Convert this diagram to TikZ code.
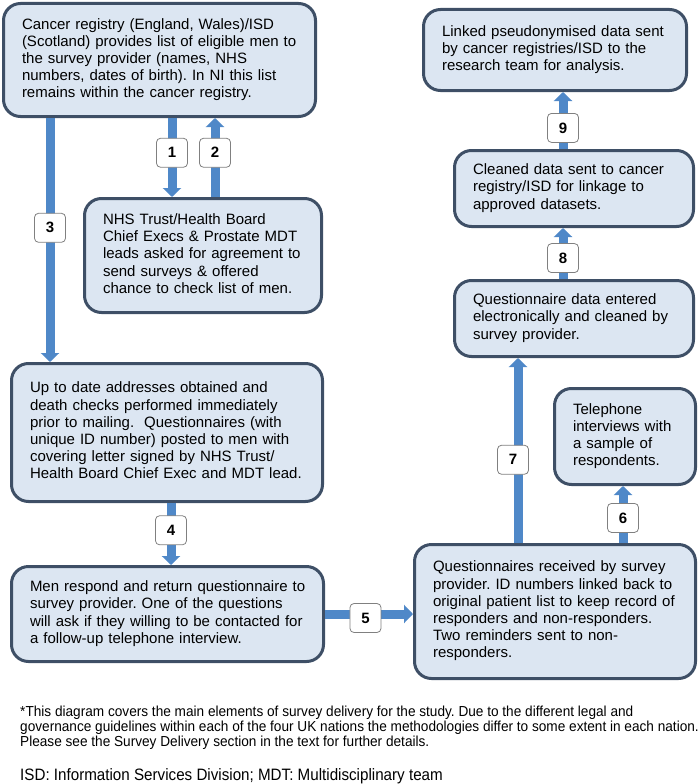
\documentclass[tikz,border=0pt]{standalone}
\usepackage{fontspec}
\setmainfont{Liberation Sans}
\newfontfamily\notefont[FakeStretch=0.94]{Liberation Sans}
\newfontfamily\abbrfont[FakeStretch=0.92]{Liberation Sans}
\usetikzlibrary{arrows.meta}
\frenchspacing

\definecolor{boxfill}{HTML}{DCE6F2}
\definecolor{boxline}{HTML}{3E4F66}
\definecolor{flowblue}{HTML}{4F88C8}

% lines of a box, kept unbroken
\newcommand{\boxlines}[1]{\begin{tabular}{@{}l@{}}#1\end{tabular}}

\tikzset{
  infobox/.style={draw=boxline, fill=boxfill, line width=3pt, rounded corners=17pt,
    align=left, inner xsep=18.5pt, inner ysep=0pt, font=\fontsize{15}{17.2}\selectfont},
  flowarrow/.style={draw=flowblue, line width=9pt, -{Triangle[width=18pt,length=9pt]}},
  numtag/.style={draw=gray, fill=white, line width=0.8pt, rounded corners=4pt,
    minimum width=31pt, minimum height=29pt, inner sep=0pt, font=\fontsize{15}{17}\selectfont\bfseries}
}

\begin{document}
\begin{tikzpicture}[x=1pt, y=-1pt]

\useasboundingbox ( 0, 0 ) rectangle ( 700, 784 );

% Boxes, left column
\node[infobox, minimum width=312pt, minimum height=113pt, text width=275pt] (registry) at ( 159.5, 60 )
  {\boxlines{Cancer registry (England, Wales)/ISD\\(Scotland) provides list of eligible men to\\the survey provider (names, NHS\\numbers, dates of birth). In NI this list\\remains within the cancer registry.}};
\node[infobox, minimum width=237pt, minimum height=114pt, text width=200pt] (trust) at ( 203, 255.5 )
  {\boxlines{NHS Trust/Health Board\\Chief Execs \& Prostate MDT\\leads asked for agreement to\\send surveys \& offered\\chance to check list of men.}};
\node[infobox, minimum width=311pt, minimum height=138pt, text width=274pt] (mailing) at ( 167, 432.5 )
  {\boxlines{Up to date addresses obtained and\\death checks performed immediately\\prior to mailing.\ \ Questionnaires (with\\unique ID number) posted to men with\\covering letter signed by NHS Trust/\\Health Board Chief Exec and MDT lead.}};
\node[infobox, minimum width=312pt, minimum height=95pt, text width=275pt] (respond) at ( 167.5, 614 )
  {\boxlines{Men respond and return questionnaire to\\survey provider. One of the questions\\will ask if they willing to be contacted for\\a follow-up telephone interview.}};

% Boxes, right column
\node[infobox, minimum width=281pt, minimum height=134pt, text width=244pt] (received) at ( 555, 611.5 )
  {\boxlines{Questionnaires received by survey\\provider. ID numbers linked back to\\original patient list to keep record of\\responders and non-responders.\\Two reminders sent to non-\\responders.}};
\node[infobox, minimum width=141pt, minimum height=96pt, text width=104pt] (phone) at ( 625, 436.5 )
  {\boxlines{Telephone\\interviews with\\a sample of\\respondents.}};
\node[infobox, minimum width=239pt, minimum height=76pt, text width=202pt] (entered) at ( 574, 318.5 )
  {\boxlines{Questionnaire data entered\\electronically and cleaned by\\survey provider.}};
\node[infobox, minimum width=239pt, minimum height=76pt, text width=202pt] (cleaned) at ( 574, 188.5 )
  {\boxlines{Cleaned data sent to cancer\\registry/ISD for linkage to\\approved datasets.}};
\node[infobox, minimum width=263pt, minimum height=81pt, text width=226pt] (linked) at ( 555, 50 )
  {\boxlines{Linked pseudonymised data sent\\by cancer registries/ISD to the\\research team for analysis.}};

% Arrow columns
\coordinate (colone) at ( 172, 0 );
\coordinate (coltwo) at ( 215, 0 );
\coordinate (colthree) at ( 50, 0 );
\coordinate (colfour) at ( 171, 0 );
\coordinate (rowfive) at ( 0, 614 );
\coordinate (colsix) at ( 623, 0 );
\coordinate (colseven) at ( 518, 0 );
\coordinate (colnine) at ( 563, 0 );

% Arrows
\draw[flowarrow] (registry.south -| colone) -- node[numtag, pos=0.44] {1} (trust.north -| colone);
\draw[flowarrow] (trust.north -| coltwo) -- node[numtag, pos=0.56] {2} (registry.south -| coltwo);
\draw[flowarrow] (registry.south -| colthree) -- node[numtag, pos=0.45] {3} (mailing.north -| colthree);
\draw[flowarrow] (mailing.south -| colfour) -- node[numtag, pos=0.44] {4} (respond.north -| colfour);
\draw[flowarrow] (respond.east |- rowfive) -- node[numtag, pos=0.46, yshift=-4pt] {5} (received.west |- rowfive);
\draw[flowarrow] (received.north -| colsix) -- node[numtag, pos=0.44] {6} (phone.south -| colsix);
\draw[flowarrow] (received.north -| colseven) -- node[numtag, pos=0.45, xshift=-5pt] {7} (entered.south -| colseven);
\draw[flowarrow] (entered.north -| colnine) -- node[numtag, pos=0.41] {8} (cleaned.south -| colnine);
\draw[flowarrow] (cleaned.north -| colnine) -- node[numtag, pos=0.37] {9} (linked.south -| colnine);

% Notes
\node[anchor=base west, align=left, inner sep=0pt, font=\notefont\fontsize{14.5}{15.3}\selectfont] (note) at ( 20, 746.6 )
  {*This diagram covers the main elements of survey delivery for the study. Due to the different legal and\\governance guidelines within each of the four UK nations the methodologies differ to some extent in each nation.\\Please see the Survey Delivery section in the text for further details.};
\node[anchor=base west, inner sep=0pt, font=\abbrfont\fontsize{16.5}{18}\selectfont] (abbrev) at ( 20, 780 )
  {ISD: Information Services Division; MDT: Multidisciplinary team};

\end{tikzpicture}
\end{document}
